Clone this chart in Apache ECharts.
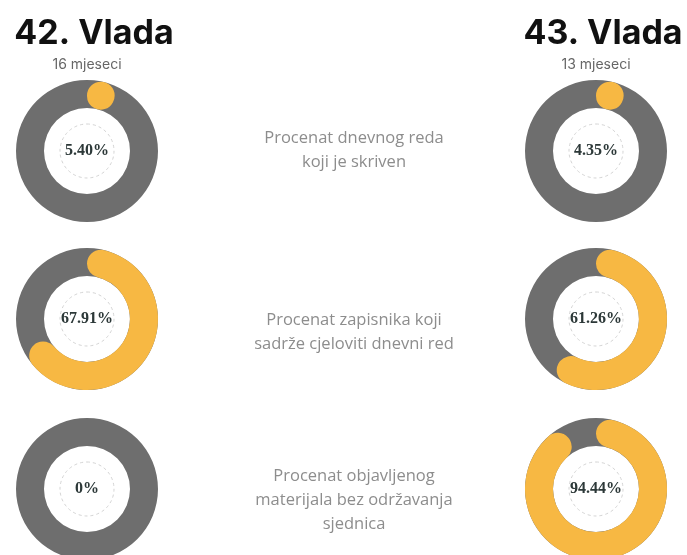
<!DOCTYPE html>
<html>
<head>
<meta charset="utf-8">
<script src="https://cdn.jsdelivr.net/npm/echarts@6/dist/echarts.min.js"></script>
<style>
  html, body { margin: 0; padding: 0; background: #fff; }
  #chart { width: 687px; height: 555px; }
</style>
</head>
<body>
<div id="chart"></div>
<script>
// values
var governments = ['42. Vlada', '43. Vlada'];
var durations = ['16 mjeseci', '13 mjeseci'];
var metrics = [
    'Procenat dnevnog reda\nkoji je skriven',
    'Procenat zapisnika koji\nsadrže cjeloviti dnevni red',
    'Procenat objavljenog\nmaterijala bez održavanja\nsjednica'
];
var values42 = [5.40, 67.91, 0];
var values43 = [4.35, 61.26, 94.44];

var GRAY = '#6e6e6e';
var ORANGE = '#f7b843';
var colX = [87, 596];
var rowY = [151, 319, 489];
var midX = 354;
var labelY = [150, 332, 500];

function fmt(v) {
    return v === 0 ? '0%' : v.toFixed(2) + '%';
}

var series = [];
var graphic = [];

[values42, values43].forEach(function (vals, c) {
    graphic.push({
        type: 'text', x: colX[c] + 7, y: 34,
        style: { text: governments[c], font: 'bold 34px Inter', fill: '#111', align: 'center', verticalAlign: 'middle' }
    });
    graphic.push({
        type: 'text', x: colX[c] + 0, y: 65,
        style: { text: durations[c], font: '14px Inter', fill: '#666', align: 'center', verticalAlign: 'middle' }
    });
    vals.forEach(function (v, r) {
        var center = [colX[c], rowY[r]];
        // gray background ring
        series.push({
            type: 'pie', silent: true, center: center, radius: [43, 71],
            label: { show: false }, labelLine: { show: false },
            itemStyle: { color: GRAY },
            data: [{ value: 1 }]
        });
        // orange share with rounded ends
        series.push({
            type: 'pie', silent: true, center: center, radius: [43, 71],
            startAngle: 90, clockwise: true,
            minAngle: v > 0 ? 28 : 0,
            label: { show: false }, labelLine: { show: false },
            itemStyle: { borderRadius: 14 },
            data: [
                { value: v, itemStyle: { color: ORANGE } },
                { value: 100 - v, itemStyle: { color: 'transparent' } }
            ]
        });
        // dashed inner circle + value
        series.push({
            type: 'pie', silent: true, center: center, radius: [0, 27],
            labelLine: { show: false },
            itemStyle: { color: 'transparent', borderColor: '#d4d4d4', borderWidth: 1, borderType: [3, 3] },
            label: {
                show: true, position: 'center', formatter: fmt(v),
                fontFamily: 'Liberation Serif', fontWeight: 'bold', fontSize: 16, color: '#2c3838'
            },
            data: [{ value: 1 }]
        });
    });
});

metrics.forEach(function (m, r) {
    graphic.push({
        type: 'text', x: midX, y: labelY[r],
        style: { text: m, font: '16.5px "Open Sans"', fill: '#8d8d8d', align: 'center', verticalAlign: 'middle', lineHeight: 24 }
    });
});

var myChart = echarts.init(document.getElementById('chart'));
myChart.setOption({
    animation: false,
    backgroundColor: '#fff',
    series: series,
    graphic: graphic
});
</script>
</body>
</html>
